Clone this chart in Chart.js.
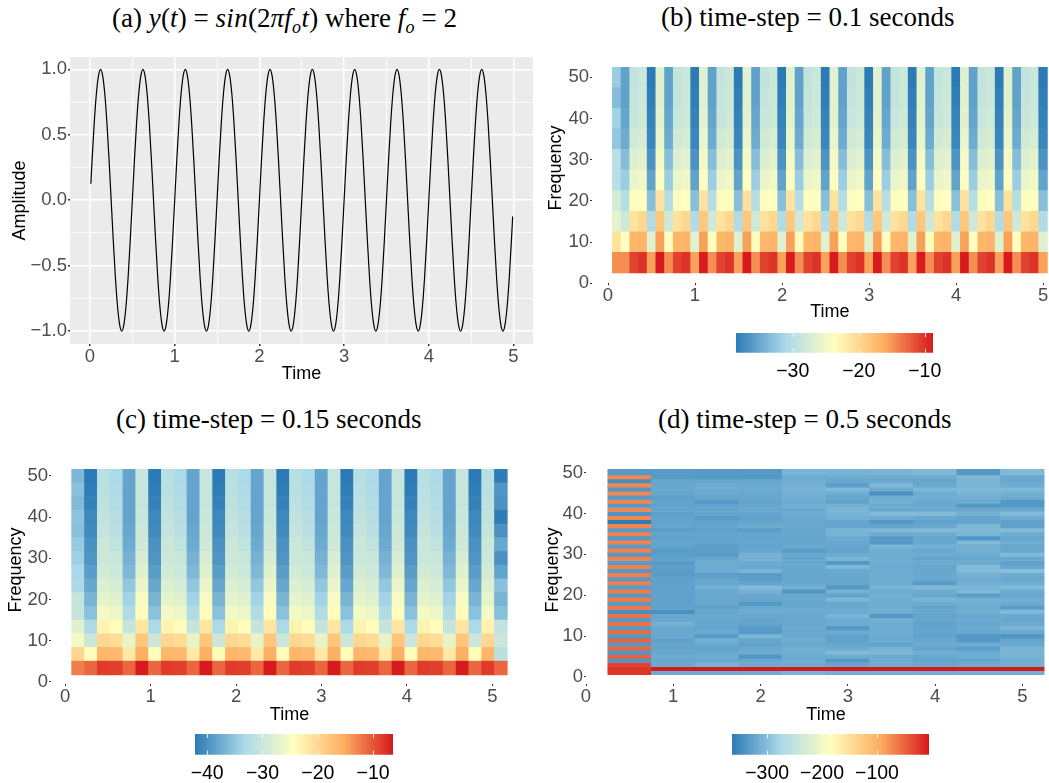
<!DOCTYPE html>
<html>
<head>
<meta charset="utf-8">
<title>Spectrograms</title>
<script src="https://cdn.jsdelivr.net/npm/chart.js@4"></script>
<style>
html, body { margin: 0; padding: 0; background: #fff; }
#page { position: relative; width: 1049px; height: 783px; overflow: hidden; }
canvas { position: absolute; display: block; }
.title { position: absolute; font-family: "Liberation Serif", serif; font-size: 27px; line-height: 30px; color: #000; white-space: nowrap; }
.title i { letter-spacing: 0.3px; }
.title sub { font-size: 18px; line-height: 0; }
</style>
</head>
<body>
<div id="page">
  <div class="title" style="left:112px;top:3px">(a) <i>y</i>(<i>t</i>) = <i>sin</i>(2<i>πf<sub>o</sub>t</i>) where <i>f<sub>o</sub></i> = 2</div>
  <div class="title" style="left:661px;top:2px">(b) time-step = 0.1 seconds</div>
  <div class="title" style="left:116px;top:404px">(c) time-step = 0.15 seconds</div>
  <div class="title" style="left:658px;top:404px">(d) time-step = 0.5 seconds</div>
  <canvas id="chartA" width="540" height="345" style="left:0;top:45px"></canvas>
  <canvas id="chartB" width="509" height="270" style="left:540px;top:55px"></canvas>
  <canvas id="chartC" width="535" height="270" style="left:0;top:457px"></canvas>
  <canvas id="chartD" width="509" height="270" style="left:540px;top:457px"></canvas>
  <canvas id="legendB" width="270" height="52" style="left:700px;top:333px"></canvas>
  <canvas id="legendC" width="270" height="49" style="left:159px;top:734px"></canvas>
  <canvas id="legendD" width="270" height="49" style="left:696px;top:734px"></canvas>
</div>

<script>
// ---------- panel (a) data ----------
var timeA = [0.01,0.025,0.05,0.075,0.1,0.125,0.15,0.175,0.2,0.225,0.25,0.275,0.3,0.325,0.35,0.375,0.4,0.425,0.45,0.475,0.5,
0.525,0.55,0.575,0.6,0.625,0.65,0.675,0.7,0.725,0.75,0.775,0.8,0.825,0.85,0.875,0.9,0.925,0.95,0.975,1,
1.025,1.05,1.075,1.1,1.125,1.15,1.175,1.2,1.225,1.25,1.275,1.3,1.325,1.35,1.375,1.4,1.425,1.45,1.475,1.5,
1.525,1.55,1.575,1.6,1.625,1.65,1.675,1.7,1.725,1.75,1.775,1.8,1.825,1.85,1.875,1.9,1.925,1.95,1.975,2,
2.025,2.05,2.075,2.1,2.125,2.15,2.175,2.2,2.225,2.25,2.275,2.3,2.325,2.35,2.375,2.4,2.425,2.45,2.475,2.5,
2.525,2.55,2.575,2.6,2.625,2.65,2.675,2.7,2.725,2.75,2.775,2.8,2.825,2.85,2.875,2.9,2.925,2.95,2.975,3,
3.025,3.05,3.075,3.1,3.125,3.15,3.175,3.2,3.225,3.25,3.275,3.3,3.325,3.35,3.375,3.4,3.425,3.45,3.475,3.5,
3.525,3.55,3.575,3.6,3.625,3.65,3.675,3.7,3.725,3.75,3.775,3.8,3.825,3.85,3.875,3.9,3.925,3.95,3.975,4,
4.025,4.05,4.075,4.1,4.125,4.15,4.175,4.2,4.225,4.25,4.275,4.3,4.325,4.35,4.375,4.4,4.425,4.45,4.475,4.5,
4.525,4.55,4.575,4.6,4.625,4.65,4.675,4.7,4.725,4.75,4.775,4.8,4.825,4.85,4.875,4.9,4.925,4.95,4.975,4.99];
var amplitudeA = [0.125,0.31,0.59,0.81,0.95,1,0.95,0.81,0.59,0.31,0,-0.31,-0.59,-0.81,-0.95,-1,-0.95,-0.81,-0.59,-0.31,0,
0.31,0.59,0.81,0.95,1,0.95,0.81,0.59,0.31,0,-0.31,-0.59,-0.81,-0.95,-1,-0.95,-0.81,-0.59,-0.31,0,
0.31,0.59,0.81,0.95,1,0.95,0.81,0.59,0.31,0,-0.31,-0.59,-0.81,-0.95,-1,-0.95,-0.81,-0.59,-0.31,0,
0.31,0.59,0.81,0.95,1,0.95,0.81,0.59,0.31,0,-0.31,-0.59,-0.81,-0.95,-1,-0.95,-0.81,-0.59,-0.31,0,
0.31,0.59,0.81,0.95,1,0.95,0.81,0.59,0.31,0,-0.31,-0.59,-0.81,-0.95,-1,-0.95,-0.81,-0.59,-0.31,0,
0.31,0.59,0.81,0.95,1,0.95,0.81,0.59,0.31,0,-0.31,-0.59,-0.81,-0.95,-1,-0.95,-0.81,-0.59,-0.31,0,
0.31,0.59,0.81,0.95,1,0.95,0.81,0.59,0.31,0,-0.31,-0.59,-0.81,-0.95,-1,-0.95,-0.81,-0.59,-0.31,0,
0.31,0.59,0.81,0.95,1,0.95,0.81,0.59,0.31,0,-0.31,-0.59,-0.81,-0.95,-1,-0.95,-0.81,-0.59,-0.31,0,
0.31,0.59,0.81,0.95,1,0.95,0.81,0.59,0.31,0,-0.31,-0.59,-0.81,-0.95,-1,-0.95,-0.81,-0.59,-0.31,0,
0.31,0.59,0.81,0.95,1,0.95,0.81,0.59,0.31,0,-0.31,-0.59,-0.81,-0.95,-1,-0.95,-0.81,-0.59,-0.31,-0.125];
var ticksXA = [0,0.5,1,1.5,2,2.5,3,3.5,4,4.5,5];
var ticksYA = [-1,-0.75,-0.5,-0.25,0,0.25,0.5,0.75,1];

// ---------- panel (b) data, rows go 5..50 Hz ----------
var timeB = [0.1,0.2,0.3,0.4,0.5,0.6,0.7,0.8,0.9,1,1.1,1.2,1.3,1.4,1.5,1.6,1.7,1.8,1.9,2,2.1,2.2,2.3,2.4,2.5,2.6,2.7,2.8,2.9,3,3.1,3.2,3.3,3.4,3.5,3.6,3.7,3.8,3.9,4,4.1,4.2,4.3,4.4,4.5,4.6,4.7,4.8,4.9,5];
var freqB = [5,10,15,20,25,30,35,40,45,50];
var valuesB = [
[-14.6,-14.6,-10.8,-10,-15.6,-8.8,-14.6,-10.8,-10,-15.6,-8.8,-14.6,-10.8,-10,-15.6,-8.8,-14.6,-10.8,-10,-15.6,-8.8,-14.6,-10.8,-10,-15.6,-8.8,-14.6,-10.8,-10,-15.6,-8.8,-14.6,-10.8,-10,-15.6,-8.8,-14.6,-10.8,-10,-15.6,-8.8,-14.6,-10.8,-10,-15.6,-8.8,-14.6,-10.8,-10,-15.6],
[-21,-23.5,-17,-16.8,-26.5,-15.5,-23.5,-17,-16.8,-26.5,-15.5,-23.5,-17,-16.8,-26.5,-15.5,-23.5,-17,-16.8,-26.5,-15.5,-23.5,-17,-16.8,-26.5,-15.5,-23.5,-17,-16.8,-26.5,-15.5,-23.5,-17,-16.8,-26.5,-15.5,-23.5,-17,-16.8,-26.5,-15.5,-23.5,-17,-16.8,-26.5,-15.5,-23.5,-17,-16.8,-26.5],
[-26,-28,-21,-20,-30.5,-18.5,-28,-21,-20,-30.5,-18.5,-28,-21,-20,-30.5,-18.5,-28,-21,-20,-30.5,-18.5,-28,-21,-20,-30.5,-18.5,-28,-21,-20,-30.5,-18.5,-28,-21,-20,-30.5,-18.5,-28,-21,-20,-30.5,-18.5,-28,-21,-20,-30.5,-18.5,-28,-21,-20,-30.5],
[-27.5,-30.3,-23.5,-23.7,-33.2,-21,-30.3,-23.5,-23.7,-33.2,-21,-30.3,-23.5,-23.7,-33.2,-21,-30.3,-23.5,-23.7,-33.2,-21,-30.3,-23.5,-23.7,-33.2,-21,-30.3,-23.5,-23.7,-33.2,-21,-30.3,-23.5,-23.7,-33.2,-21,-30.3,-23.5,-23.7,-33.2,-21,-30.3,-23.5,-23.7,-33.2,-21,-30.3,-23.5,-23.7,-33.2],
[-30,-32,-25.5,-25,-35.4,-23.8,-32,-25.5,-25,-35.4,-23.8,-32,-25.5,-25,-35.4,-23.8,-32,-25.5,-25,-35.4,-23.8,-32,-25.5,-25,-35.4,-23.8,-32,-25.5,-25,-35.4,-23.8,-32,-25.5,-25,-35.4,-23.8,-32,-25.5,-25,-35.4,-23.8,-32,-25.5,-25,-35.4,-23.8,-32,-25.5,-25,-35.4],
[-30,-33.3,-26.8,-26.2,-36.7,-24.6,-33.3,-26.8,-26.2,-36.7,-24.6,-33.3,-26.8,-26.2,-36.7,-24.6,-33.3,-26.8,-26.2,-36.7,-24.6,-33.3,-26.8,-26.2,-36.7,-24.6,-33.3,-26.8,-26.2,-36.7,-24.6,-33.3,-26.8,-26.2,-36.7,-24.6,-33.3,-26.8,-26.2,-36.7,-24.6,-33.3,-26.8,-26.2,-36.7,-24.6,-33.3,-26.8,-26.2,-36.7],
[-32.6,-34.8,-27.8,-27.3,-37.7,-25.6,-34.8,-27.8,-27.3,-37.7,-25.6,-34.8,-27.8,-27.3,-37.7,-25.6,-34.8,-27.8,-27.3,-37.7,-25.6,-34.8,-27.8,-27.3,-37.7,-25.6,-34.8,-27.8,-27.3,-37.7,-25.6,-34.8,-27.8,-27.3,-37.7,-25.6,-34.8,-27.8,-27.3,-37.7,-25.6,-34.8,-27.8,-27.3,-37.7,-25.6,-34.8,-27.8,-27.3,-37.7],
[-31.7,-35.2,-28.6,-28,-38,-26.2,-35.2,-28.6,-28,-38,-26.2,-35.2,-28.6,-28,-38,-26.2,-35.2,-28.6,-28,-38,-26.2,-35.2,-28.6,-28,-38,-26.2,-35.2,-28.6,-28,-38,-26.2,-35.2,-28.6,-28,-38,-26.2,-35.2,-28.6,-28,-38,-26.2,-35.2,-28.6,-28,-38,-26.2,-35.2,-28.6,-28,-38],
[-33.4,-35.5,-28.8,-28.2,-38.3,-26.4,-35.5,-28.8,-28.2,-38.3,-26.4,-35.5,-28.8,-28.2,-38.3,-26.4,-35.5,-28.8,-28.2,-38.3,-26.4,-35.5,-28.8,-28.2,-38.3,-26.4,-35.5,-28.8,-28.2,-38.3,-26.4,-35.5,-28.8,-28.2,-38.3,-26.4,-35.5,-28.8,-28.2,-38.3,-26.4,-35.5,-28.8,-28.2,-38.3,-26.4,-35.5,-28.8,-28.2,-38.3],
[-32.1,-35.5,-29,-28.3,-38.6,-26.5,-35.5,-29,-28.3,-38.6,-26.5,-35.5,-29,-28.3,-38.6,-26.5,-35.5,-29,-28.3,-38.6,-26.5,-35.5,-29,-28.3,-38.6,-26.5,-35.5,-29,-28.3,-38.6,-26.5,-35.5,-29,-28.3,-38.6,-26.5,-35.5,-29,-28.3,-38.6,-26.5,-35.5,-29,-28.3,-38.6,-26.5,-35.5,-29,-28.3,-38.6]
];
var rangeB = [-38.6,-8.74];
var legendTicksB = [-30,-20,-10];

// ---------- panel (c) data, rows go 3.33..50 Hz ----------
var timeC = [0.15,0.3,0.45,0.6,0.75,0.9,1.05,1.2,1.35,1.5,1.65,1.8,1.95,2.1,2.25,2.4,2.55,2.7,2.85,3,3.15,3.3,3.45,3.6,3.75,3.9,4.05,4.2,4.35,4.5,4.65,4.8,4.95,5.1];
var freqC = [3.33,6.67,10,13.33,16.67,20,23.33,26.67,30,33.33,36.67,40,43.33,46.67,50];
var valuesC = [
[-12.5,-11.1,-8.4,-8.7,-11,-6.5,-11.1,-8.4,-8.7,-11,-6.5,-11.1,-8.4,-8.7,-11,-6.5,-11.1,-8.4,-8.7,-11,-6.5,-11.1,-8.4,-8.7,-11,-6.5,-11.1,-8.4,-8.7,-11,-6.5,-11.1,-8.4,-11],
[-19.8,-24,-16.2,-16.6,-22,-15.6,-24,-16.2,-16.6,-22,-15.6,-24,-16.2,-16.6,-22,-15.6,-24,-16.2,-16.6,-22,-15.6,-24,-16.2,-16.6,-22,-15.6,-24,-16.2,-16.6,-22,-15.6,-24,-16.2,-31.5],
[-25.5,-30,-20,-20.5,-27,-18,-30,-20,-20.5,-27,-18,-30,-20,-20.5,-27,-18,-30,-20,-20.5,-27,-18,-30,-20,-20.5,-27,-18,-30,-20,-20.5,-27,-18,-30,-20,-30],
[-27.5,-33,-23,-24,-30.5,-21.5,-33,-23,-24,-30.5,-21.5,-33,-23,-24,-30.5,-21.5,-33,-23,-24,-30.5,-21.5,-33,-23,-24,-30.5,-21.5,-33,-23,-24,-30.5,-21.5,-33,-23,-30.8],
[-30.5,-35.5,-25.5,-26.3,-32.5,-24,-35.5,-25.5,-26.3,-32.5,-24,-35.5,-25.5,-26.3,-32.5,-24,-35.5,-25.5,-26.3,-32.5,-24,-35.5,-25.5,-26.3,-32.5,-24,-35.5,-25.5,-26.3,-32.5,-24,-35.5,-25.5,-35.7],
[-30.5,-36.8,-27,-27.7,-33.8,-25,-36.8,-27,-27.7,-33.8,-25,-36.8,-27,-27.7,-33.8,-25,-36.8,-27,-27.7,-33.8,-25,-36.8,-27,-27.7,-33.8,-25,-36.8,-27,-27.7,-33.8,-25,-36.8,-27,-36.8],
[-33.2,-38,-28,-28.7,-35,-26.5,-38,-28,-28.7,-35,-26.5,-38,-28,-28.7,-35,-26.5,-38,-28,-28.7,-35,-26.5,-38,-28,-28.7,-35,-26.5,-38,-28,-28.7,-35,-26.5,-38,-28,-35.6],
[-33.3,-39,-29,-29.7,-36.3,-27.5,-39,-29,-29.7,-36.3,-27.5,-39,-29,-29.7,-36.3,-27.5,-39,-29,-29.7,-36.3,-27.5,-39,-29,-29.7,-36.3,-27.5,-39,-29,-29.7,-36.3,-27.5,-39,-29,-38.3],
[-34.2,-39.7,-29.7,-30.2,-37,-28.5,-39.7,-29.7,-30.2,-37,-28.5,-39.7,-29.7,-30.2,-37,-28.5,-39.7,-29.7,-30.2,-37,-28.5,-39.7,-29.7,-30.2,-37,-28.5,-39.7,-29.7,-30.2,-37,-28.5,-39.7,-29.7,-40],
[-34.7,-40,-30,-31,-37.6,-29.5,-40,-30,-31,-37.6,-29.5,-40,-30,-31,-37.6,-29.5,-40,-30,-31,-37.6,-29.5,-40,-30,-31,-37.6,-29.5,-40,-30,-31,-37.6,-29.5,-40,-30,-38],
[-35.7,-40.8,-30.5,-31.8,-38,-30,-40.8,-30.5,-31.8,-38,-30,-40.8,-30.5,-31.8,-38,-30,-40.8,-30.5,-31.8,-38,-30,-40.8,-30.5,-31.8,-38,-30,-40.8,-30.5,-31.8,-38,-30,-40.8,-30.5,-40],
[-35.3,-41,-31,-32,-38.2,-30.2,-41,-31,-32,-38.2,-30.2,-41,-31,-32,-38.2,-30.2,-41,-31,-32,-38.2,-30.2,-41,-31,-32,-38.2,-30.2,-41,-31,-32,-38.2,-30.2,-41,-31,-42],
[-36.2,-41.6,-31.4,-32.4,-38.2,-30.3,-41.6,-31.4,-32.4,-38.2,-30.3,-41.6,-31.4,-32.4,-38.2,-30.3,-41.6,-31.4,-32.4,-38.2,-30.3,-41.6,-31.4,-32.4,-38.2,-30.3,-41.6,-31.4,-32.4,-38.2,-30.3,-41.6,-31.4,-40],
[-35.6,-41.9,-31.7,-32.7,-38.2,-30.3,-41.9,-31.7,-32.7,-38.2,-30.3,-41.9,-31.7,-32.7,-38.2,-30.3,-41.9,-31.7,-32.7,-38.2,-30.3,-41.9,-31.7,-32.7,-38.2,-30.3,-41.9,-31.7,-32.7,-38.2,-30.3,-41.9,-31.7,-39.8],
[-36.5,-42.2,-31.9,-33,-38.2,-30.4,-42.2,-31.9,-33,-38.2,-30.4,-42.2,-31.9,-33,-38.2,-30.4,-42.2,-31.9,-33,-38.2,-30.4,-42.2,-31.9,-33,-38.2,-30.4,-42.2,-31.9,-33,-38.2,-30.4,-42.2,-31.9,-42]
];
var rangeC = [-42.2,-6.4];
var legendTicksC = [-40,-30,-20,-10];

// ---------- panel (d) data, one list per time column, top row (50 Hz) first ----------
var timeD = [0.5,1,1.5,2,2.5,3,3.5,4,4.5,5];
var freqD = [50,49,48,47,46,45,44,43,42,41,40,39,38,37,36,35,34,33,32,31,30,29,28,27,26,25,24,23,22,21,20,19,18,17,16,15,14,13,12,11,10,9,8,7,6,5,4,3,2,1];
var columnsD = [
[-335,-72,-345,-72,-338,-72,-335,-71,-335,-71,-340,-70,-362,-70,-333,-69,-335,-69,-333,-68,-335,-68,-333,-67,-335,-66,-335,-66,-333,-65,-335,-64,-335,-62,-345,-60,-335,-58,-335,-56,-336,-50,-336,-53,-338,-48,-338,-30,-22,-22],
[-333,-333,-323,-321,-321,-322,-329,-324,-327,-325,-329,-325,-325,-324,-331,-325,-327,-325,-325,-333,-331,-327,-333,-329,-332,-332,-327,-328,-327,-327,-327,-328,-327,-327,-342,-322,-320,-312,-321,-321,-320,-328,-323,-324,-321,-318,-321,-320,-5,-318],
[-335,-335,-323,-317,-317,-318,-323,-335,-327,-325,-324,-333,-327,-325,-327,-325,-325,-325,-331,-331,-333,-323,-318,-317,-317,-331,-323,-321,-314,-320,-321,-321,-321,-329,-323,-320,-321,-324,-323,-320,-333,-314,-321,-325,-320,-317,-321,-311,-5,-318],
[-335,-335,-321,-318,-318,-321,-321,-325,-322,-320,-324,-327,-324,-318,-332,-324,-324,-322,-324,-322,-312,-312,-318,-320,-309,-332,-332,-325,-304,-312,-320,-323,-335,-321,-318,-321,-324,-324,-333,-333,-309,-323,-327,-320,-318,-338,-321,-318,-5,-317],
[-310,-318,-315,-312,-311,-312,-314,-318,-314,-320,-318,-321,-321,-320,-321,-321,-324,-324,-320,-332,-321,-323,-321,-321,-321,-321,-323,-320,-314,-338,-321,-320,-321,-320,-318,-320,-321,-321,-317,-321,-320,-315,-320,-315,-314,-318,-317,-318,-5,-310],
[-311,-317,-321,-331,-304,-317,-321,-327,-314,-311,-311,-314,-324,-324,-310,-311,-318,-321,-323,-324,-318,-308,-335,-307,-321,-321,-321,-321,-335,-312,-324,-307,-320,-320,-318,-310,-318,-318,-336,-318,-327,-327,-323,-318,-305,-317,-336,-323,-5,-314],
[-309,-318,-320,-305,-318,-344,-317,-312,-318,-321,-304,-317,-336,-324,-305,-318,-333,-333,-310,-317,-317,-317,-317,-317,-317,-317,-317,-317,-311,-318,-314,-317,-317,-315,-315,-336,-314,-317,-317,-317,-318,-318,-327,-312,-308,-318,-317,-317,-5,-314],
[-305,-318,-323,-320,-307,-317,-314,-320,-320,-320,-304,-320,-327,-321,-303,-318,-321,-320,-314,-320,-317,-324,-318,-322,-322,-320,-321,-333,-305,-318,-321,-309,-318,-324,-321,-324,-321,-327,-324,-324,-327,-320,-318,-324,-315,-321,-325,-320,-5,-314],
[-336,-305,-308,-308,-305,-309,-314,-318,-336,-321,-312,-324,-324,-307,-305,-307,-338,-305,-314,-312,-318,-321,-317,-303,-303,-312,-317,-315,-308,-305,-332,-314,-315,-317,-315,-320,-318,-321,-318,-320,-335,-335,-318,-331,-318,-317,-325,-318,-5,-314],
[-304,-321,-320,-317,-305,-314,-317,-335,-335,-321,-304,-318,-328,-328,-303,-318,-322,-317,-321,-321,-304,-321,-327,-321,-300,-318,-321,-315,-304,-318,-321,-315,-318,-332,-305,-320,-323,-318,-309,-320,-338,-323,-320,-309,-309,-311,-315,-315,-5,-314]
];
var rangeD = [-364,-5.2];
var legendTicksD = [-300,-200,-100];

// tick lists for the three heatmaps
var ticksTime = [0,1,2,3,4,5];
var ticksFreq = [0,10,20,30,40,50];

// five colour ramp of the heatmaps, low to high
var ramp = [[44,123,182],[171,217,233],[255,255,191],[253,174,97],[215,25,28]];

function colorOf(v, range) {
	var t = (v - range[0]) / (range[1] - range[0]);
	t = Math.max(0, Math.min(1, t)) * (ramp.length - 1);
	var i = Math.min(Math.floor(t), ramp.length - 2);
	var f = t - i;
	var c = [0,1,2].map(function(k){ return Math.round(ramp[i][k] + (ramp[i+1][k] - ramp[i][k]) * f); });
	return "rgb(" + c.join(",") + ")";
}

function minusLabel(v) {
	return String(v).replace("-", "\u2212");
}

var tickFont = {family: "'Liberation Sans', Arial, sans-serif", size: 18.5};
var nameFont = "18px 'Liberation Sans', Arial, sans-serif";
Chart.defaults.animation = false;

// ---------- panel (a) ----------
var ggBackground = {
	id: "ggBackground",
	beforeDraw: function(chart) {
		var a = chart.chartArea;
		chart.ctx.fillStyle = "#ebebeb";
		chart.ctx.fillRect(a.left, a.top, a.width, a.height);
	}
};

function isMajorX(v) { return Number.isInteger(v); }
function isMajorY(v) { return Number.isInteger(v * 2); }

new Chart(document.getElementById("chartA"), {
	type: "line",
	plugins: [ggBackground],
	data: {
		datasets: [{
			data: timeA.map(function(t, i){ return {x: t, y: amplitudeA[i]}; }),
			borderColor: "#000",
			borderWidth: 1.2,
			pointRadius: 0,
			cubicInterpolationMode: "monotone"
		}]
	},
	options: {
		responsive: false,
		layout: {padding: {top: 10, right: 7}},
		plugins: {legend: {display: false}, tooltip: {enabled: false}},
		scales: {
			x: {
				type: "linear", min: -0.236, max: 5.23,
				afterBuildTicks: function(s){ s.ticks = ticksXA.map(function(v){ return {value: v}; }); },
				afterFit: function(s){ s.height = 46; },
				border: {display: false},
				grid: {
					color: "#fff",
					lineWidth: function(c){ return isMajorX(c.tick.value) ? 1.5 : 0.8; },
					tickColor: function(c){ return isMajorX(c.tick.value) ? "#333" : "transparent"; },
					tickLength: 2
				},
				ticks: {
					autoSkip: false, maxRotation: 0, padding: 0, color: "#4d4d4d", font: tickFont,
					callback: function(v){ return isMajorX(v) ? String(v) : ""; }
				},
				title: {display: true, text: "Time", color: "#000", font: {family: tickFont.family, size: 18}, padding: {top: 0, bottom: 5}}
			},
			y: {
				min: -1.0986, max: 1.0933,
				afterBuildTicks: function(s){ s.ticks = ticksYA.map(function(v){ return {value: v}; }); },
				afterFit: function(s){ s.width = 70; },
				border: {display: false},
				grid: {
					color: "#fff",
					lineWidth: function(c){ return isMajorY(c.tick.value) ? 1.5 : 0.8; },
					tickColor: function(c){ return isMajorY(c.tick.value) ? "#333" : "transparent"; },
					tickLength: 2
				},
				ticks: {
					autoSkip: false, padding: 1, color: "#4d4d4d", font: tickFont,
					callback: function(v){ return isMajorY(v) ? minusLabel(v.toFixed(1)) : ""; }
				},
				title: {display: true, text: "Amplitude", color: "#000", font: {family: tickFont.family, size: 18}, padding: {top: 9, bottom: 0}}
			}
		}
	}
});

// ---------- panels (b) (c) (d) ----------
// one floating bar dataset per frequency row, cells coloured from the value
function drawHeat(id, time, freq, rows, range, box) {
	var halfF = Math.abs(freq[1] - freq[0]) / 2;
	var halfT = (time[1] - time[0]) / 2;
	var datasets = rows.map(function(row, r) {
		var hi = freq[r] + halfF;
		if (box.topEdge && freq[r] == Math.max.apply(null, freq)) hi = box.topEdge;
		return {
			data: row.map(function(v, c){ return {x: time[c], y: [freq[r] - halfF, hi]}; }),
			backgroundColor: row.map(function(v){ return colorOf(v, range); }),
			borderWidth: 0,
			grouped: false,
			barPercentage: 1,
			categoryPercentage: 1
		};
	});

	// axis names sit on the middle of the cell block, not of the axes
	var axisNames = {
		id: "axisNames",
		afterDraw: function(chart) {
			var ctx = chart.ctx, sx = chart.scales.x;
			var midX = (sx.getPixelForValue(time[0] - halfT) + sx.getPixelForValue(time[time.length-1] + halfT)) / 2;
			ctx.save();
			ctx.fillStyle = "#000";
			ctx.font = nameFont;
			ctx.textAlign = "center";
			ctx.textBaseline = "middle";
			ctx.fillText("Time", midX, box.timeY);
			ctx.translate(box.freqX, box.freqMid);
			ctx.rotate(-Math.PI / 2);
			ctx.fillText("Frequency", 0, 0);
			ctx.restore();
		}
	};

	new Chart(document.getElementById(id), {
		type: "bar",
		plugins: [axisNames],
		data: {datasets: datasets},
		options: {
			responsive: false,
			layout: {padding: {top: box.top, right: box.right}},
			plugins: {legend: {display: false}, tooltip: {enabled: false}},
			scales: {
				x: {
					type: "linear", min: box.xMin, max: box.xMax, offset: false,
					afterBuildTicks: function(s){ s.ticks = ticksTime.map(function(v){ return {value: v}; }); },
					afterFit: function(s){ s.height = box.bottom; },
					border: {display: false},
					grid: {offset: false, drawOnChartArea: false, tickColor: "#333", tickLength: 2},
					ticks: {autoSkip: false, maxRotation: 0, padding: 0, color: "#4d4d4d", font: tickFont}
				},
				y: {
					min: box.yMin, max: box.yMax,
					afterBuildTicks: function(s){ s.ticks = ticksFreq.map(function(v){ return {value: v}; }); },
					afterFit: function(s){ s.width = box.left; },
					border: {display: false},
					grid: {drawOnChartArea: false, tickColor: "#333", tickLength: 2},
					ticks: {autoSkip: false, padding: 1, color: "#4d4d4d", font: tickFont}
				}
			}
		}
	});
}

// colour bar: a single floating bar with the ramp as gradient
var barMarks = {
	id: "barMarks",
	afterDatasetsDraw: function(chart) {
		var ctx = chart.ctx, a = chart.chartArea, sx = chart.scales.x;
		ctx.save();
		ctx.strokeStyle = "rgba(255,255,255,0.85)";
		ctx.lineWidth = 1;
		sx.ticks.forEach(function(t) {
			var px = Math.round(sx.getPixelForValue(t.value)) + 0.5;
			ctx.beginPath();
			ctx.moveTo(px, a.top); ctx.lineTo(px, a.top + 4);
			ctx.moveTo(px, a.bottom - 4); ctx.lineTo(px, a.bottom);
			ctx.stroke();
		});
		ctx.restore();
	}
};

function drawLegend(id, range, ticks, pad) {
	new Chart(document.getElementById(id), {
		type: "bar",
		plugins: [barMarks],
		data: {
			labels: [""],
			datasets: [{
				data: [[range[0], range[1]]],
				barPercentage: 1,
				categoryPercentage: 1,
				borderWidth: 0,
				backgroundColor: function(c) {
					var a = c.chart.chartArea;
					if (!a) return "#fff";
					var g = c.chart.ctx.createLinearGradient(a.left, 0, a.right, 0);
					ramp.forEach(function(k, i){ g.addColorStop(i / (ramp.length - 1), "rgb(" + k.join(",") + ")"); });
					return g;
				}
			}]
		},
		options: {
			indexAxis: "y",
			responsive: false,
			layout: {padding: {left: pad.left, right: pad.right}},
			plugins: {legend: {display: false}, tooltip: {enabled: false}},
			scales: {
				y: {display: false},
				x: {
					type: "linear", min: range[0], max: range[1],
					afterBuildTicks: function(s){ s.ticks = ticks.map(function(v){ return {value: v}; }); },
					afterFit: function(s){ s.height = pad.below; },
					border: {display: false},
					grid: {display: false, drawTicks: false, tickLength: 0},
					ticks: {
						autoSkip: false, maxRotation: 0, padding: 7, color: "#000",
						font: {family: tickFont.family, size: 19.5},
						callback: function(v){ return minusLabel(v); }
					}
				}
			}
		}
	});
}

drawHeat("chartB", timeB, freqB, valuesB, rangeB, {
	left: 52, right: 1, top: 10, bottom: 41.7, xMin: -0.184, xMax: 5.057, yMin: 0, yMax: 52.5,
	timeY: 257, freqX: 16, freqMid: 113
});
drawHeat("chartC", timeC, freqC, valuesC, rangeC, {
	left: 51, right: 26, top: 10, bottom: 43, xMin: -0.167, xMax: 5.195, yMin: -0.55, yMax: 51.67,
	timeY: 258, freqX: 16, freqMid: 113
});
drawHeat("chartD", timeD, freqD, columnsD[0].map(function(v, r){ return columnsD.map(function(col){ return col[r]; }); }), rangeD, {
	left: 46, right: 4, top: 9, bottom: 43, xMin: 0, xMax: 5.26, yMin: -1.76, yMax: 50.9, topEdge: 51,
	timeY: 258, freqX: 13, freqMid: 113
});

drawLegend("legendB", rangeB, legendTicksB, {left: 36, right: 37, below: 32.3});
drawLegend("legendC", rangeC, legendTicksC, {left: 36, right: 36, below: 28.3});
drawLegend("legendD", rangeD, legendTicksD, {left: 36, right: 37, below: 28.3});
</script>
</body>
</html>
